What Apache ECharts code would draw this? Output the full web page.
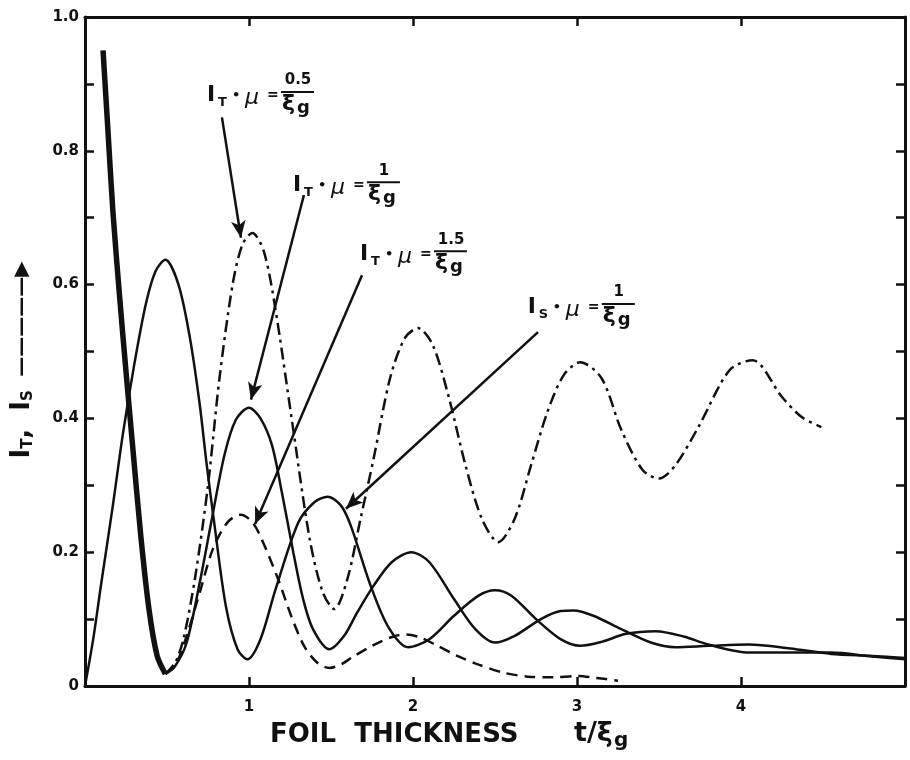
<!DOCTYPE html>
<html>
<head>
<meta charset="utf-8">
<script src="https://cdn.jsdelivr.net/npm/echarts@6/dist/echarts.min.js"></script>
<style>
html, body { margin: 0; padding: 0; background: #fff; }
#chart { width: 910px; height: 760px; }
</style>
</head>
<body>
<div id="chart"></div>
<script>
// values as [t/xi_g, intensity]
// common start of the three I_T curves (drawn heavy)
const commonIT = [[0.11,0.95],[0.14,0.83],[0.17,0.71],[0.21,0.585],[0.25,0.47],[0.29,0.36],[0.34,0.225],[0.39,0.115],[0.44,0.045],[0.49,0.018]];

const IT_mu05 = [[0.49,0.018],[0.55,0.035],[0.6,0.07],[0.67,0.16],[0.75,0.3],[0.82,0.46],[0.9,0.6],[0.96,0.66],[1.02,0.677],[1.09,0.65],[1.16,0.565],[1.26,0.4],[1.37,0.22],[1.45,0.14],[1.52,0.115],[1.6,0.16],[1.68,0.25],[1.76,0.34],[1.86,0.46],[1.95,0.52],[2.03,0.535],[2.12,0.51],[2.22,0.43],[2.32,0.33],[2.42,0.25],[2.52,0.215],[2.62,0.25],[2.72,0.33],[2.82,0.41],[2.92,0.465],[3.02,0.484],[3.15,0.46],[3.27,0.383],[3.4,0.323],[3.5,0.31],[3.6,0.33],[3.74,0.387],[3.93,0.472],[4.07,0.487],[4.25,0.432],[4.37,0.402],[4.49,0.387]];

const IT_mu10 = [[0.49,0.018],[0.55,0.03],[0.62,0.065],[0.7,0.155],[0.77,0.245],[0.85,0.345],[0.92,0.398],[1.0,0.416],[1.07,0.4],[1.14,0.36],[1.2,0.29],[1.27,0.2],[1.33,0.13],[1.39,0.085],[1.49,0.055],[1.58,0.075],[1.66,0.11],[1.76,0.15],[1.87,0.185],[1.99,0.2],[2.1,0.185],[2.25,0.13],[2.38,0.085],[2.5,0.065],[2.62,0.075],[2.78,0.1],[2.9,0.112],[2.98,0.113],[3.1,0.105],[3.27,0.085],[3.45,0.065],[3.6,0.058],[3.8,0.06],[4.05,0.062],[4.3,0.056],[4.55,0.048],[4.8,0.045],[5,0.042]];

const IT_mu15 = [[0.49,0.018],[0.55,0.03],[0.62,0.075],[0.7,0.14],[0.78,0.205],[0.87,0.245],[0.95,0.256],[1.02,0.245],[1.08,0.218],[1.18,0.158],[1.26,0.103],[1.34,0.058],[1.42,0.034],[1.49,0.027],[1.56,0.032],[1.63,0.043],[1.75,0.06],[1.88,0.074],[1.96,0.077],[2.05,0.072],[2.15,0.06],[2.27,0.045],[2.4,0.032],[2.55,0.02],[2.7,0.014],[2.85,0.013],[3.0,0.015],[3.12,0.012],[3.25,0.008]];

const IS_mu10 = [[0,0],[0.05,0.07],[0.1,0.155],[0.17,0.27],[0.23,0.375],[0.3,0.48],[0.37,0.57],[0.43,0.62],[0.49,0.637],[0.57,0.6],[0.64,0.52],[0.7,0.42],[0.74,0.335],[0.79,0.24],[0.86,0.118],[0.93,0.055],[0.99,0.04],[1.07,0.07],[1.16,0.143],[1.3,0.244],[1.4,0.275],[1.48,0.283],[1.56,0.27],[1.62,0.24],[1.74,0.151],[1.85,0.088],[1.97,0.058],[2.1,0.07],[2.25,0.105],[2.4,0.135],[2.5,0.143],[2.6,0.135],[2.75,0.1],[2.9,0.07],[3.02,0.06],[3.15,0.066],[3.3,0.078],[3.48,0.082],[3.65,0.074],[3.8,0.062],[4.05,0.05],[4.3,0.05],[4.55,0.05],[4.8,0.044],[5,0.04]];

const xTickLabels = ['', '1', '2', '3', '4', ''];
const yTickLabels = ['0', '0.2', '0.4', '0.6', '0.8', '1.0'];

// annotations: label corner, arrow tail, arrow tip (data coords)
const notes = [
    {sub: 'T', num: '0.5', at: [0.744, 0.894], from: [0.835, 0.85],  to: [0.951, 0.67]},
    {sub: 'T', num: '1',   at: [1.268, 0.759], from: [1.335, 0.734], to: [1.012, 0.428]},
    {sub: 'T', num: '1.5', at: [1.677, 0.656], from: [1.689, 0.614], to: [1.037, 0.242]},
    {sub: 'S', num: '1',   at: [2.70, 0.577],  from: [2.762, 0.529], to: [1.591, 0.265]}
];

const INK = '#111';
const FONT = 'DejaVu Sans';

let chart = echarts.init(document.getElementById('chart'));

function curve(name, data, width, dash){
    return {
        name: name, type: 'line', data: data,
        smooth: 0.3, symbol: 'none', silent: true,
        lineStyle: {color: INK, width: width, type: dash}
    };
}

function axisCommon(){
    return {
        axisLine: {onZero: false, lineStyle: {color: INK, width: 3}},
        axisTick: {inside: true, length: 9, lineStyle: {color: INK, width: 2.5}},
        splitLine: {show: false}
    };
}

let option = {
    animation: false,
    backgroundColor: '#fff',
    grid: {left: 85, right: 5, top: 17, bottom: 74, outerBoundsMode: 'none'},
    xAxis: [
        Object.assign({
            type: 'value', min: 0, max: 5, interval: 1, position: 'bottom',
            axisLabel: {
                margin: 14, color: INK, fontSize: 15, fontWeight: 'bold', fontFamily: FONT,
                formatter: v => xTickLabels[Math.round(v)] || ''
            }
        }, axisCommon()),
        Object.assign({
            type: 'value', min: 0, max: 5, interval: 1, position: 'top',
            axisLabel: {show: false}
        }, axisCommon())
    ],
    yAxis: [
        Object.assign({
            type: 'value', min: 0, max: 1, interval: 0.1, position: 'left',
            axisLabel: {
                margin: 6, color: INK, fontSize: 15, fontWeight: 'bold', fontFamily: FONT,
                formatter: function(v){
                    let k = Math.round(v * 10);
                    return k % 2 === 0 ? yTickLabels[k / 2] : '';
                }
            }
        }, axisCommon()),
        Object.assign({
            type: 'value', min: 0, max: 1, interval: 0.1, position: 'right',
            axisLabel: {show: false}
        }, axisCommon())
    ],
    series: [
        curve('common', commonIT, 5.5, 'solid'),
        curve('IT 0.5', IT_mu05, 2.5, [12, 5, 3, 5]),
        curve('IT 1', IT_mu10, 2.5, 'solid'),
        curve('IT 1.5', IT_mu15, 2.5, [11, 7]),
        curve('IS 1', IS_mu10, 2.5, 'solid'),
        {
            name: 'arrows', type: 'line', data: [], silent: true,
            markLine: {
                silent: true, animation: false,
                symbol: ['none', 'arrow'], symbolSize: [11, 17],
                label: {show: false},
                lineStyle: {color: INK, width: 2.5, type: 'solid'},
                emphasis: {disabled: true},
                data: notes.map(n => [{coord: n.from}, {coord: n.to}])
            }
        }
    ]
};
chart.setOption(option);

// text pieces for the annotation labels
function txt(text, x, y, size, extra){
    let style = {text: text, fontSize: size, fontFamily: FONT, fontWeight: 'bold', fill: INK, align: 'left', verticalAlign: 'top'};
    Object.assign(style, extra || {});
    return {type: 'text', x: x, y: y, silent: true, style: style};
}

function noteLabel(n){
    let p = chart.convertToPixel({xAxisIndex: 0, yAxisIndex: 0}, n.at);
    return {
        type: 'group', x: p[0], y: p[1] - 4,
        children: [
            txt('I', 0, 0, 22),
            txt(n.sub, 11, 12, 13),
            txt('\u2022', 25, 5, 13),
            txt('\u03bc', 38, 3, 22, {fontStyle: 'italic', fontWeight: 'normal'}),
            txt('=', 60, 4, 14),
            txt(n.num, 91, -11, 15, {align: 'center'}),
            {type: 'line', silent: true, shape: {x1: 74, y1: 8, x2: 107, y2: 8}, style: {stroke: INK, lineWidth: 2}},
            txt('\u03be', 75, 9, 22),
            txt('g', 90, 15, 18)
        ]
    };
}

let graphics = notes.map(noteLabel);

// axis titles
graphics.push({
    type: 'text', x: 22, y: 360, rotation: Math.PI / 2, silent: true,
    style: {
        text: '{b|I}{s|T}{b|,  I}{s|S}    {a|\u2014\u2014\u2014\u2014\u2014\u25b6}',
        align: 'center', verticalAlign: 'middle', fill: INK,
        rich: {
            b: {fontSize: 26, fontWeight: 'bold', fontFamily: FONT, fill: INK},
            s: {fontSize: 15, fontWeight: 'bold', fontFamily: FONT, fill: INK, padding: [12, 0, 0, 0]},
            a: {fontSize: 20, fontWeight: 'bold', fontFamily: FONT, fill: INK}
        }
    }
});
graphics.push(txt('FOIL  THICKNESS', 270, 722, 26));
graphics.push(txt('t/\u03be', 574, 720, 27));
graphics.push(txt('g', 614, 731, 20));

chart.setOption({graphic: graphics});
</script>
</body>
</html>
